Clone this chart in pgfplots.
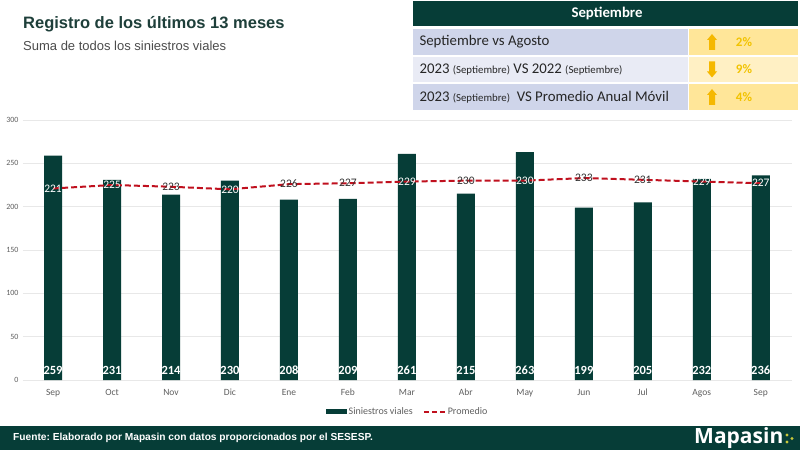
\documentclass[border=0pt]{standalone}
\usepackage{fontspec}
\setmainfont{Carlito}
\newfontfamily\arial{Liberation Sans}
\newfontfamily\opens{Open Sans}
\usepackage{pgfplots}
\pgfplotsset{compat=1.18}
\definecolor{barc}{HTML}{063D37}
\definecolor{titc}{HTML}{1E3F3A}
\definecolor{redl}{HTML}{C0101E}
\definecolor{gridc}{HTML}{E8E8E8}
\definecolor{tickc}{HTML}{5F5F5F}
\definecolor{lav}{HTML}{CFD5EA}
\definecolor{lav2}{HTML}{E9EBF5}
\definecolor{yel}{HTML}{FFE699}
\definecolor{yel2}{HTML}{FFF0C4}
\definecolor{arr}{HTML}{F5B800}
\definecolor{pct}{HTML}{F2C300}
\definecolor{dots}{HTML}{C9C83A}
\frenchspacing
\begin{document}
\begin{tikzpicture}[x=1pt,y=1pt]
\fill[white] (0,0) rectangle (800,450);
\begin{axis}[at={(23pt,70pt)}, anchor=south west, width=769pt, height=260pt, scale only axis,
  xmin=-0.51, xmax=12.53, ymin=0, ymax=300,
  axis line style={draw=none}, major tick length=0pt,
  ytick={0,50,...,300}, ymajorgrids, grid style={gridc, line width=0.8pt},
  xtick={0,...,12}, xticklabels={Sep,Oct,Nov,Dic,Ene,Feb,Mar,Abr,May,Jun,Jul,Agos,Sep},
  x tick label style={font=\fontsize{9.5}{10}\selectfont, text=tickc, yshift=-5.5pt},
  y tick label style={font=\fontsize{8}{9}\selectfont, text=tickc, xshift=-1pt},
  /pgf/number format/assume math mode=true,
  legend style={at={(0.5,-0.123)}, anchor=center, draw=none, fill=none, legend columns=2,
    font=\fontsize{10}{11}\selectfont, text=tickc, /tikz/every even column/.append style={column sep=8pt}},
]
\addplot[ybar, bar width=18pt, fill=barc, draw=none,
  legend image code/.code={\fill[barc] (0pt,-2.5pt) rectangle (21pt,2.5pt);}]
  coordinates {(0,259)(1,231)(2,214)(3,230)(4,208)(5,209)(6,261)(7,215)(8,263)(9,199)(10,205)(11,232)(12,236)};
\addlegendentry{Siniestros viales}
\addplot[redl, line width=2pt, dash pattern=on 6pt off 3pt, mark=none,
  legend image code/.code={\draw[redl, line width=2pt, dash pattern=on 5pt off 3pt] (0pt,0pt) -- (21pt,0pt);}]
  coordinates {(0,221)(1,225)(2,223)(3,220)(4,226)(5,227)(6,229)(7,230)(8,230)(9,233)(10,231)(11,229)(12,227)};
\addlegendentry{Promedio}
% bar value labels
\addplot[forget plot, draw=none, mark=none, nodes near coords, point meta=explicit symbolic,
  nodes near coords style={text=white, font=\bfseries\fontsize{12.5}{13}\selectfont, anchor=center}]
  coordinates {(0,11.5)[259](1,11.5)[231](2,11.5)[214](3,11.5)[230](4,11.5)[208](5,11.5)[209](6,11.5)[261](7,11.5)[215](8,11.5)[263](9,11.5)[199](10,11.5)[205](11,11.5)[232](12,11.5)[236]};
% average labels, white on bars
\addplot[forget plot, draw=none, mark=none, nodes near coords, point meta=explicit symbolic,
  nodes near coords style={text=white, font=\fontsize{11.5}{12}\selectfont, anchor=center}]
  coordinates {(0,221)[221](1,225)[225](3,220)[220](6,229)[229](8,230)[230](11,229)[229](12,227)[227]};
% average labels, black above bars
\addplot[forget plot, draw=none, mark=none, nodes near coords, point meta=explicit symbolic,
  nodes near coords style={text=black!80, font=\fontsize{11.5}{12}\selectfont, anchor=center}]
  coordinates {(2,223)[223](4,226)[226](5,227)[227](7,230)[230](9,233)[233](10,231)[231]};
\end{axis}
% titles
\node[anchor=west, inner sep=0pt, text=titc, font=\arial\bfseries\fontsize{16.5}{18}\selectfont] at (23,426) {Registro de los últimos 13 meses};
\node[anchor=west, inner sep=0pt, text=black!70, font=\arial\fontsize{13}{15}\selectfont] at (23,404) {Suma de todos los siniestros viales};
% table
\fill[barc] (413,424) rectangle (798,449);
\node[text=white, font=\bfseries\fontsize{14.8}{16}\selectfont] at (607,436.5) {Septiembre};
\fill[lav] (413,395) rectangle (688,421);
\fill[yel] (689,395) rectangle (798,421);
\fill[lav2] (413,368) rectangle (688,393);
\fill[yel2] (689,368) rectangle (798,393);
\fill[lav] (413,340) rectangle (688,366);
\fill[yel] (689,340) rectangle (798,366);
\node[anchor=west, text=black!85, font=\fontsize{14.8}{16}\selectfont] at (416,408) {Septiembre vs Agosto};
\node[anchor=west, text=black!85, font=\fontsize{14.8}{16}\selectfont] at (416,380.5) {2023 {\fontsize{10.8}{12}\selectfont (Septiembre)} VS 2022 {\fontsize{10.8}{12}\selectfont (Septiembre)}};
\node[anchor=west, text=black!85, font=\fontsize{14.8}{16}\selectfont] at (416,353) {2023 {\fontsize{10.8}{12}\selectfont (Septiembre)}\ \ VS Promedio Anual Móvil};
% arrows
\fill[arr] (712,416) -- (717,410) -- (715,410) -- (715,400) -- (709,400) -- (709,410) -- (707,410) -- cycle;
\fill[arr] (712,372.5) -- (717,378.5) -- (715,378.5) -- (715,388.5) -- (709,388.5) -- (709,378.5) -- (707,378.5) -- cycle;
\fill[arr] (712,361) -- (717,355) -- (715,355) -- (715,345) -- (709,345) -- (709,355) -- (707,355) -- cycle;
\node[text=pct, font=\bfseries\fontsize{13}{15}\selectfont] at (744,408) {2\%};
\node[text=pct, font=\bfseries\fontsize{13}{15}\selectfont] at (744,380.5) {9\%};
\node[text=pct, font=\bfseries\fontsize{13}{15}\selectfont] at (744,353) {4\%};
% footer
\fill[barc] (0,0) rectangle (800,24);
\node[anchor=west, inner sep=0pt, text=white, font=\arial\bfseries\fontsize{10.2}{11}\selectfont] at (13,12) {Fuente: Elaborado por Mapasin con datos proporcionados por el SESESP.};
\node[anchor=west, inner sep=0pt, text=white, font=\opens\bfseries\fontsize{21}{23}\selectfont] at (694,12) {Mapasin};
\fill[dots] (787,15) circle (1.6);
\fill[dots] (792,11.5) circle (1.6);
\fill[dots] (787,8) circle (1.6);
\end{tikzpicture}
\end{document}
